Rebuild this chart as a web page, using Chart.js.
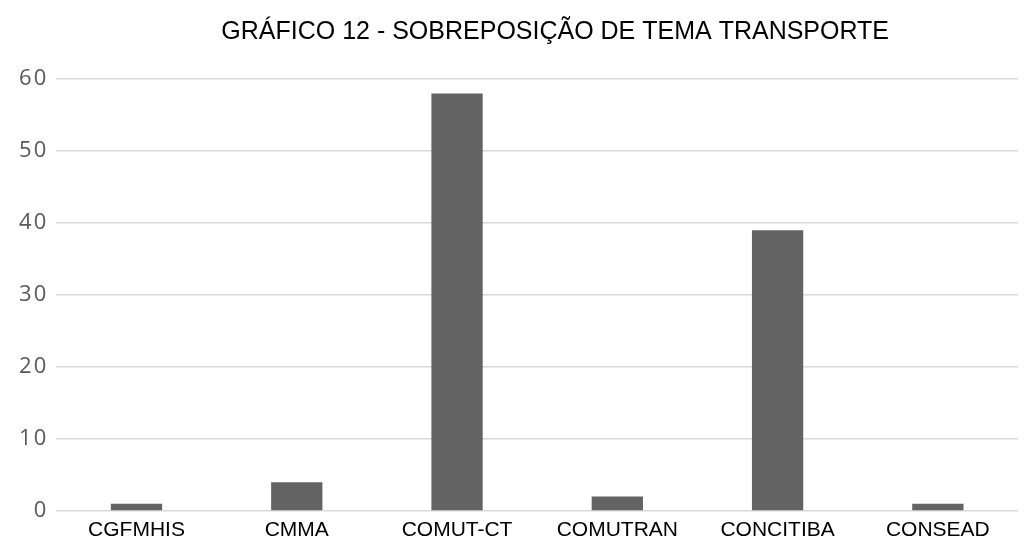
<!DOCTYPE html>
<html>
<head>
<meta charset="utf-8">
<script src="https://cdn.jsdelivr.net/npm/chart.js@4/dist/chart.umd.min.js"></script>
<style>
  html, body { margin: 0; padding: 0; background: #fff; }
  #wrap { width: 1033px; height: 547px; }
</style>
</head>
<body>
<div id="wrap"><canvas id="grafico"></canvas></div>
<script>
// datos del grafico
var categorias = ["CGFMHIS", "CMMA", "COMUT-CT", "COMUTRAN", "CONCITIBA", "CONSEAD"];
var valores = [1, 4, 58, 2, 39, 1];
var titulo = "GRÁFICO 12 - SOBREPOSIÇÃO DE TEMA TRANSPORTE";

var ctx = document.getElementById("grafico").getContext("2d");

var chart = new Chart(ctx, {
    type: "bar",
    data: {
        labels: categorias,
        datasets: [{
            data: valores,
            backgroundColor: "#636363",
            borderWidth: 0,
            categoryPercentage: 1,
            barPercentage: 0.32
        }]
    },
    options: {
        responsive: true,
        maintainAspectRatio: false,
        animation: false,
        layout: { padding: { left: 9, right: 15, top: 0, bottom: -3 } },
        plugins: {
            legend: { display: false },
            tooltip: { enabled: false },
            title: {
                display: true,
                // espacios al inicio para desplazar el titulo a la derecha como en el original
                text: "            " + titulo,
                color: "#000",
                font: { family: "'Liberation Sans', Arial, sans-serif", size: 25, weight: "normal" },
                padding: { top: 17, bottom: 32 }
            }
        },
        scales: {
            x: {
                grid: { display: false, drawTicks: false },
                border: { display: false },
                ticks: {
                    color: "#000",
                    padding: 9,
                    font: { family: "'Liberation Sans', Arial, sans-serif", size: 21, lineHeight: 1 }
                }
            },
            y: {
                min: 0,
                max: 60,
                ticks: {
                    stepSize: 10,
                    color: "#595959",
                    padding: 10,
                    font: { family: "'Open Sans', sans-serif", size: 22 },
                    callback: function(v){ return String(v).split("").join("\u200A"); }
                },
                grid: { color: "#d9d9d9", lineWidth: 1.5, drawTicks: false },
                border: { display: false }
            }
        }
    }
});
</script>
</body>
</html>
